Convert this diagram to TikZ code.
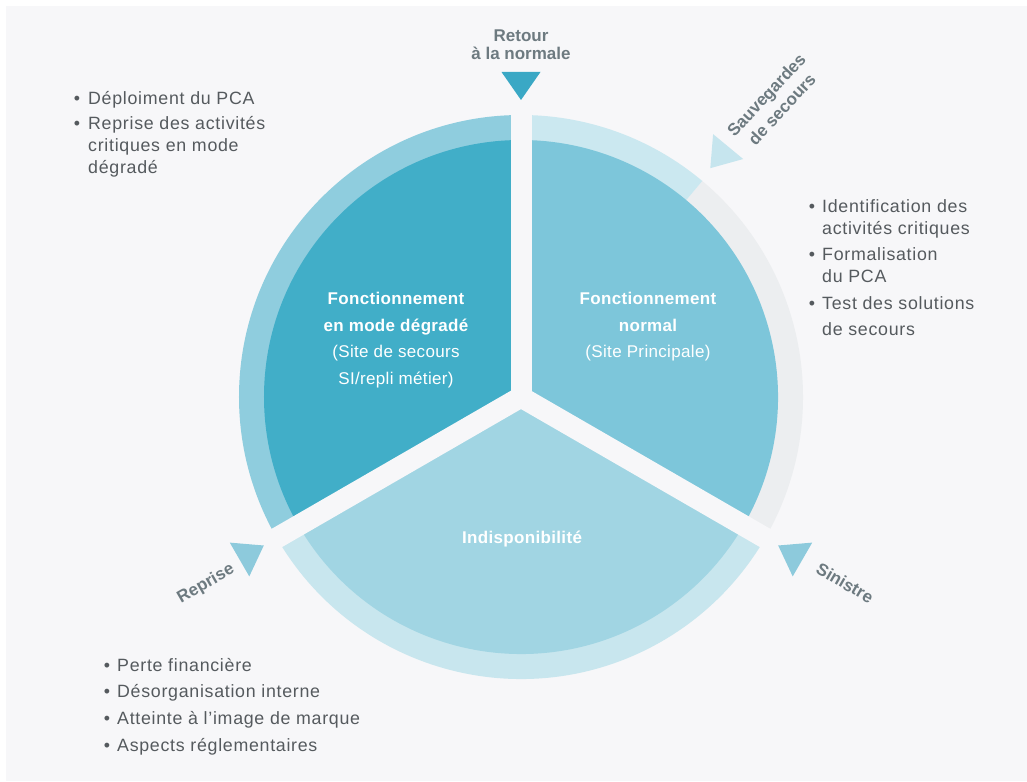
\documentclass[tikz,border=0pt]{standalone}
\usepackage{fontspec}
\setmainfont{Liberation Sans}
\newfontfamily\bodyfont[LetterSpace=4]{Liberation Sans}
\newfontfamily\headfont[LetterSpace=2]{Liberation Sans}
\usetikzlibrary{calc}
\definecolor{bg}{HTML}{F7F7F9}
\definecolor{darkteal}{HTML}{41AEC8}
\definecolor{midblue}{HTML}{7DC6DA}
\definecolor{lightblue}{HTML}{A1D5E3}
\definecolor{ringleft}{HTML}{8FCDDE}
\definecolor{ringlight}{HTML}{CBE8F0}
\definecolor{ringgray}{HTML}{ECEEF0}
\definecolor{ringbottom}{HTML}{C8E6EE}
\definecolor{triretour}{HTML}{3AA8C5}
\definecolor{trimid}{HTML}{8DCADC}
\definecolor{trilight}{HTML}{C6E5EE}
\definecolor{labelgray}{HTML}{6D7A80}
\definecolor{textgray}{HTML}{555A5E}
\newcommand\ringseg[3]{\fill[#1] (#2:282pt) arc[start angle=#2, end angle=#3, radius=282pt] -- (#3:250pt) arc[start angle=#3, end angle=#2, radius=250pt] -- cycle;}
\newcommand\sectorfill[3]{\fill[#1] (0,0) -- (#2:257pt) arc[start angle=#2, end angle=#3, radius=257pt] -- cycle;}
\newcommand\trimark[2]{\fill[#1] (#2:297pt) -- ($(#2:325pt)+(#2+90:19.5pt)$) -- ($(#2:325pt)+(#2-90:19.5pt)$) -- cycle;}
\begin{document}
\begin{tikzpicture}[x=1pt,y=1pt,
  bodytxt/.style={font=\bodyfont\fontsize{17.8}{20}\selectfont, text=textgray, inner sep=0pt},
  bul/.style={bodytxt, anchor=base},
  btxt/.style={bodytxt, anchor=base west},
  sectb/.style={font=\headfont\bfseries\fontsize{17}{20}\selectfont, text=white, anchor=base, inner sep=0pt},
  sectr/.style={font=\headfont\fontsize{17}{20}\selectfont, text=white, anchor=base, inner sep=0pt},
  lbl/.style={font=\bfseries\fontsize{17}{20}\selectfont, text=labelgray, inner sep=0pt, align=center},
  gap/.style={bg, line width=21pt}
]
\useasboundingbox (-521,-384) rectangle (506,397);
\fill[white] (-521,-384) rectangle (506,397);
\fill[bg] (-515,-384) rectangle (506,391);

% outer ring
\ringseg{ringleft}{90}{210}
\ringseg{ringbottom}{210}{330}
\ringseg{ringgray}{-30}{50}
\ringseg{ringlight}{50}{90}
% inner sectors
\sectorfill{darkteal}{90}{210}
\sectorfill{lightblue}{210}{330}
\sectorfill{midblue}{-30}{90}
% gaps
\coordinate (c) at (0,0);
\coordinate (g1) at (90:295pt);
\coordinate (g2) at (210:295pt);
\coordinate (g3) at (330:295pt);
\draw[gap] (c) -- (g1);
\draw[gap] (c) -- (g2);
\draw[gap] (c) -- (g3);
% triangles
\trimark{triretour}{90}
\trimark{trilight}{50.4}
\trimark{trimid}{-30}
\trimark{trimid}{210}

% labels
\node[lbl, anchor=base] (ret1) at (0,355) {Retour};
\node[lbl, anchor=base] (ret2) at (0,337) {à la normale};
\node[lbl, rotate=47, font=\bfseries\fontsize{17}{21}\selectfont] (sauv) at (253,295) {Sauvegardes\\de secours};
\node[lbl, rotate=-30] (sin) at (324,-186) {Sinistre};
\node[lbl, rotate=30] (rep) at (-315,-187) {Reprise};

% sector texts
\node[sectb] (l1) at (-125,92) {Fonctionnement};
\node[sectb] (l2) at (-125,65) {en mode dégradé};
\node[sectr] (l3) at (-125,39) {(Site de secours};
\node[sectr] (l4) at (-125,12) {SI/repli métier)};
\node[sectb] (r1) at (127,92) {Fonctionnement};
\node[sectb] (r2) at (127,65) {normal};
\node[sectr] (r3) at (127,39) {(Site Principale)};
\node[sectb] (b1) at (1,-146) {Indisponibilité};

% top-left bullets
\node[bul] (tb1) at (-444,292) {•};
\node[btxt] (tt1) at (-433,292) {Déploiment du PCA};
\node[bul] (tb2) at (-444,267) {•};
\node[btxt] (tt2) at (-433,267) {Reprise des activités};
\node[btxt] (tt3) at (-433,245) {critiques en mode};
\node[btxt] (tt4) at (-433,223) {dégradé};

% right bullets
\node[bul] (rb1) at (291,184) {•};
\node[btxt] (rt1) at (301,184) {Identification des};
\node[btxt] (rt2) at (301,162) {activités critiques};
\node[bul] (rb2) at (291,136) {•};
\node[btxt] (rt3) at (301,136) {Formalisation};
\node[btxt] (rt4) at (301,114) {du PCA};
\node[bul] (rb3) at (291,87) {•};
\node[btxt] (rt5) at (301,87) {Test des solutions};
\node[btxt] (rt6) at (301,61) {de secours};

% bottom bullets
\node[bul] (bb1) at (-414,-274) {•};
\node[btxt] (bt1) at (-404,-274) {Perte financière};
\node[bul] (bb2) at (-414,-300) {•};
\node[btxt] (bt2) at (-404,-300) {Désorganisation interne};
\node[bul] (bb3) at (-414,-327) {•};
\node[btxt] (bt3) at (-404,-327) {Atteinte à l’image de marque};
\node[bul] (bb4) at (-414,-354) {•};
\node[btxt] (bt4) at (-404,-354) {Aspects réglementaires};
\end{tikzpicture}
\end{document}
